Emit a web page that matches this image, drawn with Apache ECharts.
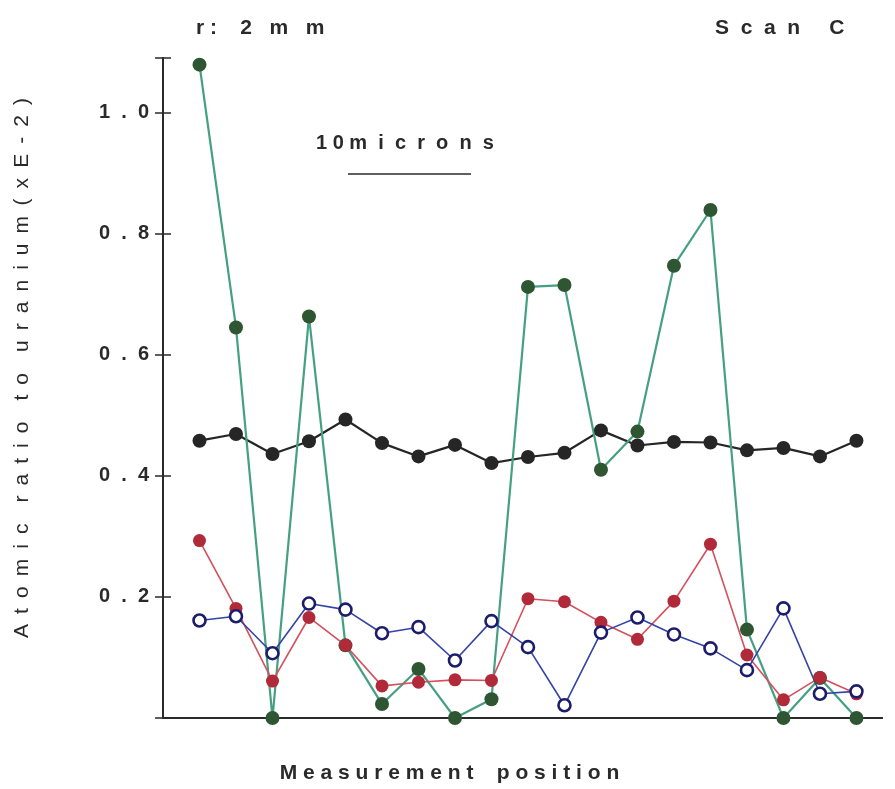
<!DOCTYPE html>
<html>
<head>
<meta charset="utf-8">
<script src="https://cdn.jsdelivr.net/npm/echarts@6/dist/echarts.min.js"></script>
<style>
  html, body { margin: 0; padding: 0; background: #fff; }
  #chart { width: 895px; height: 789px; }
</style>
</head>
<body>
<div id="chart"></div>
<script>
// measurement positions along the scan
const positions = [1, 2, 3, 4, 5, 6, 7, 8, 9, 10, 11, 12, 13, 14, 15, 16, 17, 18, 19]
// y tick labels
const yTicks = ['0.2', '0.4', '0.6', '0.8', '1.0']

// series values (atomic ratio to uranium, xE-2)
const blackVals = [0.458, 0.469, 0.436, 0.457, 0.493, 0.454, 0.432, 0.451, 0.421, 0.431,
    0.438, 0.475, 0.450, 0.456, 0.455, 0.442, 0.446, 0.432, 0.458]
const greenVals = [1.079, 0.645, 0.0, 0.663, 0.120, 0.023, 0.081, 0.0, 0.031, 0.712,
    0.715, 0.410, 0.473, 0.747, 0.839, 0.146, 0.0, 0.066, 0.0]
const redVals = [0.293, 0.181, 0.061, 0.166, 0.120, 0.053, 0.059, 0.063, 0.062, 0.197,
    0.192, 0.158, 0.130, 0.193, 0.287, 0.104, 0.030, 0.067, 0.040]
const blueVals = [0.161, 0.168, 0.107, 0.189, 0.179, 0.140, 0.150, 0.095, 0.160, 0.117,
    0.021, 0.141, 0.166, 0.138, 0.115, 0.079, 0.181, 0.040, 0.044]

// 把字母拉开，模仿原图的字距
function spaced(s, gap) {
    return s.split('').join(gap)
}

function pairs(vals) {
    return vals.map((v, i) => [positions[i], v])
}

let chart = echarts.init(document.getElementById('chart'))
const FONT = 'Liberation Sans'
const INK = '#2a2a2a'
const LGAP = ' \u2009'

const option = {
    animation: false,
    backgroundColor: '#fff',
    grid: {
        left: 163,
        right: 13,
        top: 58,
        bottom: 68
    },
    xAxis: [
        {
            type: 'value',
            min: 0,
            max: 19.7,
            name: spaced('Measurement', ' ') + '    ' + spaced('position', ' '),
            nameLocation: 'center',
            nameGap: 45,
            nameTextStyle: {
                fontFamily: FONT,
                fontSize: 21,
                fontWeight: 'bold',
                color: INK,
                padding: [0, 146, 0, 0]
            },
            axisLine: { show: true, lineStyle: { color: INK, width: 2 } },
            axisTick: { show: false },
            axisLabel: { show: false },
            splitLine: { show: false }
        },
        {
            type: 'value',
            position: 'top',
            min: 0,
            max: 19.7,
            axisLine: { show: true, lineStyle: { color: INK, width: 2 } },
            axisTick: { show: false },
            axisLabel: { show: false },
            splitLine: { show: false }
        }
    ],
    yAxis: [
        {
            type: 'value',
            min: 0,
            max: 1.09,
            interval: 0.2,
            name: spaced('Atomic', LGAP) + '\u2002\u2002' + spaced('ratio', LGAP) + '\u2002\u2002' +
                spaced('to', LGAP) + '\u2002\u2002' + spaced('uranium', LGAP) + '\u2002' + spaced('(xE-2)', LGAP),
            nameLocation: 'center',
            nameGap: 130,
            nameRotate: 90,
            nameTextStyle: {
                fontFamily: FONT,
                fontSize: 21,
                color: INK,
                padding: [0, 0, 0, 40]
            },
            axisLine: { show: true, lineStyle: { color: INK, width: 2 } },
            axisTick: { show: true, length: 8, lineStyle: { color: INK, width: 1.5 } },
            axisLabel: {
                margin: 14,
                fontFamily: FONT,
                fontSize: 20,
                fontWeight: 'bold',
                color: INK,
                formatter: function (v) {
                    const lab = yTicks.find(t => Math.abs(parseFloat(t) - v) < 1e-6)
                    return lab ? spaced(lab, '  ') : ''
                }
            },
            splitLine: { show: false }
        },
        {
            type: 'value',
            position: 'right',
            min: 0,
            max: 1.09,
            interval: 0.2,
            axisLine: { show: true, lineStyle: { color: INK, width: 2 } },
            axisTick: { show: true, length: 8, lineStyle: { color: INK, width: 1.5 } },
            axisLabel: { show: false },
            splitLine: { show: false }
        }
    ],
    series: [
        {
            name: 'black',
            type: 'line',
            data: pairs(blackVals),
            symbol: 'circle',
            symbolSize: 14,
            lineStyle: { color: '#262626', width: 2.2 },
            itemStyle: { color: '#262626' }
        },
        {
            name: 'green',
            type: 'line',
            data: pairs(greenVals),
            symbol: 'circle',
            symbolSize: 14,
            lineStyle: { color: '#45a083', width: 2.2 },
            itemStyle: { color: '#2e5632' }
        },
        {
            name: 'red',
            type: 'line',
            data: pairs(redVals),
            symbol: 'circle',
            symbolSize: 13,
            lineStyle: { color: '#d4505c', width: 1.6 },
            itemStyle: { color: '#b02a3a' }
        },
        {
            name: 'blue',
            type: 'line',
            data: pairs(blueVals),
            symbol: 'circle',
            symbolSize: 12,
            lineStyle: { color: '#3443a6', width: 1.6 },
            itemStyle: { color: '#fff', borderColor: '#1c1c6c', borderWidth: 2.6 }
        }
    ],
    graphic: [
        {
            type: 'text',
            left: 196,
            top: 18,
            style: {
                text: 'r :    2   m   m',
                font: 'bold 21px ' + FONT,
                fill: INK
            }
        },
        {
            type: 'text',
            left: 715,
            top: 18,
            style: {
                text: 'S  c  a  n     C',
                font: 'bold 21px ' + FONT,
                fill: INK
            }
        },
        {
            type: 'text',
            left: 316,
            top: 133,
            style: {
                text: '1 0 m  i  c  r  o  n  s',
                font: 'bold 20px ' + FONT,
                fill: INK
            }
        },
        {
            type: 'line',
            shape: { x1: 348, y1: 174, x2: 471, y2: 174 },
            style: { stroke: INK, lineWidth: 1.5 }
        }
    ]
}
chart.setOption(option)
</script>
</body>
</html>
